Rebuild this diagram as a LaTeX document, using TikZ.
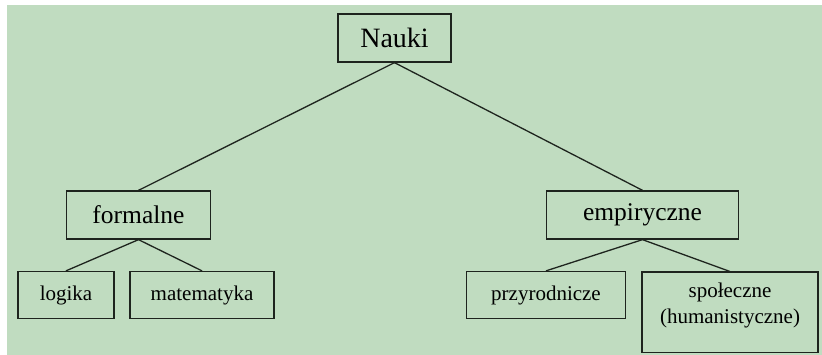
\documentclass[tikz,border=0pt]{standalone}
\usepackage{fontspec}
\setmainfont{Liberation Serif}
\definecolor{bggreen}{RGB}{192,220,192}
\definecolor{ink}{RGB}{30,36,30}
\begin{document}
\begin{tikzpicture}[x=1pt,y=-1pt,
  box/.style={draw=ink, line width=1.3pt, inner sep=0pt},
  lvlA/.style={font=\fontsize{28}{32}\selectfont},
  lvlB/.style={font=\fontsize{25.5}{30}\selectfont},
  lvlC/.style={font=\fontsize{21}{26}\selectfont},
  link/.style={draw=ink, line width=1.3pt}]
\useasboundingbox (0,0) rectangle (822,355);
\fill[bggreen] (7,5) rectangle (822,355);

\node[box, lvlA, minimum width=113pt, minimum height=48pt] (nauki) at (394.5,38) {Nauki};
\node[box, lvlB, minimum width=144pt, minimum height=48pt] (formalne) at (138.5,215) {formalne};
\node[box, lvlB, minimum width=192pt, minimum height=48pt] (empir) at (642.5,215) {empiryczne};
\node[box, lvlC, minimum width=96pt, minimum height=47pt] (logika) at (66,295) {logika};
\node[box, lvlC, minimum width=144pt, minimum height=47pt] (mat) at (202,295) {matematyka};
\node[box, lvlC, minimum width=159pt, minimum height=47pt] (przyr) at (546,295) {przyrodnicze};
\node[box, minimum width=176pt, minimum height=80pt, anchor=north] (spol) at (730,271.5) {};
\node[lvlC, align=center, anchor=north, inner sep=0pt] (spoltxt) at ([yshift=-11pt]spol.north) {społeczne\\(humanistyczne)};

\draw[link] (nauki.south) -- (formalne.north);
\draw[link] (nauki.south) -- (empir.north);
\draw[link] (formalne.south) -- (logika.north);
\draw[link] (formalne.south) -- (mat.north);
\draw[link] (empir.south) -- (przyr.north);
\draw[link] (empir.south) -- (spol.north);
\end{tikzpicture}
\end{document}
